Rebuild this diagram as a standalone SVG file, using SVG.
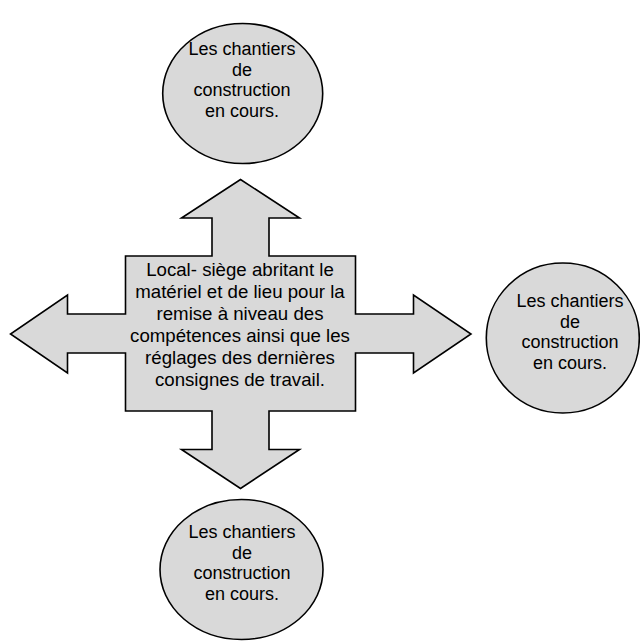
<svg xmlns="http://www.w3.org/2000/svg" width="640" height="641" viewBox="0 0 640 641">
<style>
.shape{fill:#d9d9d9;stroke:#000;stroke-width:1.6;stroke-linejoin:miter}
.t{font-family:"Liberation Sans",Arial,sans-serif;fill:#000;text-anchor:middle}
.c{font-size:18px}
.m{font-size:18.67px}
</style>
<rect width="640" height="641" fill="#fff"/>
<g id="hub">
<path class="shape" d="M240.5,179.5 L299.5,218 L269,218 L269,256 L355.5,256 L355.5,314 L413.5,314 L413.5,295 L471,334 L413.5,373 L413.5,353 L355.5,353 L355.5,411 L269,411 L269,449.5 L299.5,449.5 L240.5,488.5 L181.5,449.5 L212,449.5 L212,411 L125.5,411 L125.5,353 L67.5,353 L67.5,373 L10.5,334 L67.5,295 L67.5,314 L125.5,314 L125.5,256 L212,256 L212,218 L181.5,218 Z"/>
<text class="t m" x="240" y="276">Local- siège abritant le</text>
<text class="t m" x="240" y="298">matériel et de lieu pour la</text>
<text class="t m" x="240" y="320">remise à niveau des</text>
<text class="t m" x="240" y="342">compétences ainsi que les</text>
<text class="t m" x="240" y="364">réglages des dernières</text>
<text class="t m" x="240" y="386">consignes de travail.</text>
</g>
<g id="top">
<ellipse class="shape" cx="242.7" cy="93.5" rx="80" ry="70"/>
<text class="t c" x="242" y="55">Les chantiers</text>
<text class="t c" x="242" y="75.7">de</text>
<text class="t c" x="242" y="96.4">construction</text>
<text class="t c" x="242" y="117">en cours.</text>
</g>
<g id="right">
<ellipse class="shape" cx="562.8" cy="338" rx="76.5" ry="75"/>
<text class="t c" x="570" y="307">Les chantiers</text>
<text class="t c" x="570" y="327.7">de</text>
<text class="t c" x="570" y="348.4">construction</text>
<text class="t c" x="570" y="369">en cours.</text>
</g>
<g id="bottom">
<ellipse class="shape" cx="241.5" cy="569.5" rx="81.5" ry="70"/>
<text class="t c" x="242" y="538">Les chantiers</text>
<text class="t c" x="242" y="558.7">de</text>
<text class="t c" x="242" y="579.4">construction</text>
<text class="t c" x="242" y="600">en cours.</text>
</g>
<g id="connectors"/>
</svg>
